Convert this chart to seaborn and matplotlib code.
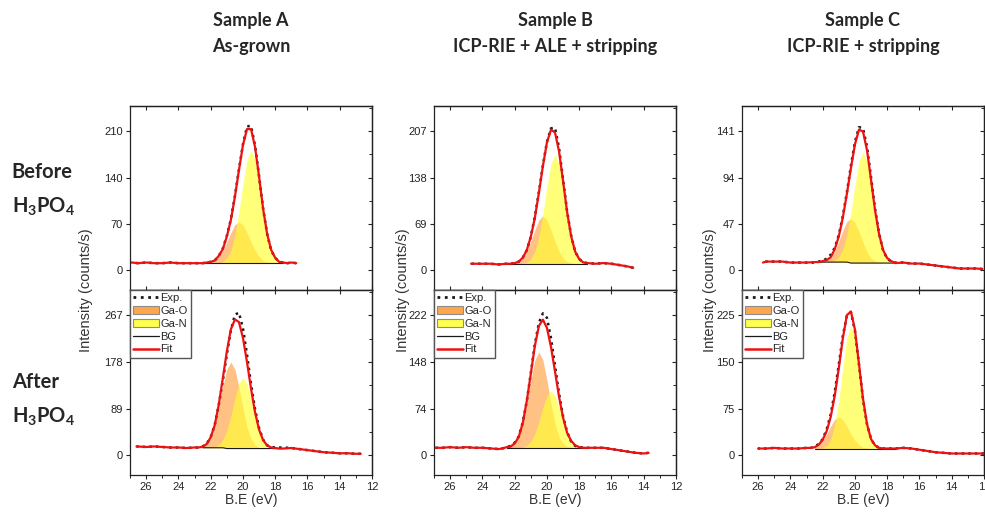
import numpy as np
import pandas as pd
import seaborn as sns
import matplotlib.pyplot as plt
from matplotlib.lines import Line2D
from matplotlib.patches import Patch


# ----------------------------------------------------     Data   ---------------------------------------------
# binding energy grid of the fitted window (eV)
peak_be = [22.5, 22.25, 22.0, 21.75, 21.5, 21.25, 21.0, 20.75, 20.5, 20.25, 20.0,
           19.75, 19.5, 19.25, 19.0, 18.75, 18.5, 18.25, 18.0, 17.75, 17.5]

# Sample A, before H3PO4
a_top_exp_x = [26.9, 26.5, 26.0, 25.5, 25.0, 24.5, 24.0, 23.5, 23.0, 22.5, 22.25, 22.0, 21.75, 21.5, 21.25, 21.0,
               20.75, 20.5, 20.25, 20.0, 19.75, 19.5, 19.25, 19.0, 18.75, 18.5, 18.25, 18.0, 17.75, 17.5, 17.25, 17.0, 16.7]
a_top_exp_y = [12, 11, 12, 11, 11, 12, 11, 11, 11, 11, 12, 13, 15, 22, 33, 52,
               77, 112, 152, 190, 217, 218, 188, 142, 93, 55, 30, 19, 13, 12, 11, 12, 11]
a_top_bg = [11, 11, 11, 11, 11, 11, 11, 11, 11, 11, 11, 11, 11, 11, 11, 11, 11, 11, 11, 11, 11]
a_top_gao = [0, 1, 2, 4, 10, 19, 32, 46, 58, 62, 58, 46, 32, 19, 10, 4, 2, 1, 0, 0, 0]
a_top_gan = [0, 0, 0, 0, 1, 2, 8, 19, 42, 78, 120, 156, 170, 156, 120, 78, 42, 19, 8, 2, 1]

# Sample A, after H3PO4
a_bot_exp_x = [26.6, 26.0, 25.5, 25.0, 24.5, 24.0, 23.5, 23.0, 22.75, 22.5, 22.25, 22.0, 21.75, 21.5, 21.25, 21.0,
               20.75, 20.5, 20.25, 20.0, 19.75, 19.5, 19.25, 19.0, 18.75, 18.5, 18.25, 18.0, 17.5, 17.0, 16.5, 16.0,
               15.5, 15.0, 14.5, 14.0, 13.5, 13.0, 12.7]
a_bot_exp_y = [17, 16, 17, 16, 15, 15, 14, 15, 15, 17, 22, 35, 58, 96, 142, 192,
               238, 268, 272, 242, 192, 136, 88, 52, 30, 19, 16, 15, 15, 14, 12, 10,
               8, 6, 5, 4, 4, 3, 3]
a_bot_bg = [14.5, 14.5, 14.5, 14.5, 14.5, 14.5, 13, 13, 13, 13, 13, 13, 13, 13, 13, 13, 13, 13, 13, 13, 13]
a_bot_gao = [2, 7, 19, 41, 76, 117, 151, 165, 151, 117, 76, 41, 19, 7, 2, 1, 0, 0, 0, 0, 0]
a_bot_gan = [0, 0, 1, 2, 6, 15, 34, 62, 95, 124, 135, 124, 95, 62, 34, 15, 6, 2, 1, 0, 0]

# Sample B, before H3PO4
b_top_exp_x = [24.7, 24.5, 24.0, 23.5, 23.0, 22.5, 22.25, 22.0, 21.75, 21.5, 21.25, 21.0, 20.75, 20.5, 20.25, 20.0,
               19.75, 19.5, 19.25, 19.0, 18.75, 18.5, 18.25, 18.0, 17.75, 17.5, 17.0, 16.5, 16.0, 15.5, 15.0, 14.65]
b_top_exp_y = [10, 10, 10, 10, 9, 10, 10, 11, 13, 19, 30, 50, 80, 116, 156, 191,
               211, 212, 182, 135, 88, 52, 28, 17, 12, 11, 10, 11, 10, 8, 6, 4]
b_top_bg = [10, 10, 10, 10, 10, 10, 10, 10, 10, 10, 10, 10, 10, 10, 10, 10, 10, 10, 10, 10, 10]
b_top_gao = [0, 0, 1, 3, 8, 18, 33, 50, 65, 71, 65, 50, 33, 18, 8, 3, 1, 0, 0, 0, 0]
b_top_gan = [0, 0, 0, 0, 1, 2, 7, 18, 40, 74, 115, 149, 162, 149, 115, 74, 40, 18, 7, 2, 1]

# Sample B, after H3PO4
b_bot_exp_x = [26.9, 26.5, 26.0, 25.5, 25.0, 24.5, 24.0, 23.5, 23.0, 22.75, 22.5, 22.25, 22.0, 21.75, 21.5, 21.25,
               21.0, 20.75, 20.5, 20.25, 20.0, 19.75, 19.5, 19.25, 19.0, 18.75, 18.5, 18.25, 18.0, 17.5, 17.0, 16.5,
               16.0, 15.5, 15.0, 14.5, 14.0, 13.7]
b_bot_exp_y = [12, 12, 13, 12, 13, 12, 12, 11, 10, 11, 13, 15, 20, 30, 52, 86,
               130, 176, 210, 225, 218, 186, 142, 98, 62, 37, 22, 15, 13, 12, 12, 12,
               10, 8, 6, 4, 3, 4]
b_bot_bg = [12, 12, 12, 12, 12, 12, 12, 12, 12, 12, 12, 12, 12, 12, 12, 12, 12, 12, 12, 12, 12]
b_bot_gao = [1, 2, 7, 17, 38, 70, 107, 139, 152, 139, 107, 70, 38, 17, 7, 2, 1, 0, 0, 0, 0]
b_bot_gan = [0, 0, 0, 0, 1, 4, 10, 22, 41, 64, 83, 90, 83, 64, 41, 22, 10, 4, 1, 0, 0]

# Sample C, before H3PO4
c_top_exp_x = [25.7, 25.5, 25.0, 24.5, 24.0, 23.5, 23.0, 22.5, 22.25, 22.0, 21.75, 21.5, 21.25, 21.0, 20.75, 20.5,
               20.25, 20.0, 19.75, 19.5, 19.25, 19.0, 18.75, 18.5, 18.25, 18.0, 17.75, 17.5, 17.0, 16.5, 16.0, 15.5,
               15.0, 14.5, 14.0, 13.5, 13.0, 12.5, 12.1]
c_top_exp_y = [8, 9, 9, 9, 8, 8, 8, 8, 9, 10, 12, 16, 23, 36, 55, 79,
               106, 130, 145, 144, 125, 94, 62, 37, 20, 12, 9, 8, 8, 7, 7, 6,
               5, 4, 3, 2, 2, 2, 1.5]
c_top_bg = [8.5, 8.5, 8.5, 8.5, 8.5, 8.5, 8.5, 8.5, 8.5, 7.5, 7.5, 7.5, 7.5, 7.5, 7.5, 7.5, 7.5, 7.5, 7.5, 7.5, 7.5]
c_top_gao = [0, 0, 1, 2, 5, 11, 21, 32, 41, 45, 41, 32, 21, 11, 5, 2, 1, 0, 0, 0, 0]
c_top_gan = [0, 0, 0, 0, 0, 2, 5, 13, 28, 51, 79, 103, 112, 103, 79, 51, 28, 13, 5, 2, 0]

# Sample C, after H3PO4
c_bot_exp_x = [26.0, 25.5, 25.0, 24.5, 24.0, 23.5, 23.0, 22.75, 22.5, 22.25, 22.0, 21.75, 21.5, 21.25, 21.0, 20.75,
               20.5, 20.25, 20.0, 19.75, 19.5, 19.25, 19.0, 18.75, 18.5, 18.25, 18.0, 17.5, 17.0, 16.5, 16.0, 15.5,
               15.0, 14.5, 14.0, 13.5, 13.0, 12.5, 12.0]
c_bot_exp_y = [11, 11, 12, 11, 11, 11, 12, 12, 14, 18, 26, 42, 66, 102, 146, 192,
               224, 230, 200, 146, 90, 50, 26, 16, 12, 11, 11, 11, 12, 11, 9, 7,
               5, 4, 3, 3, 3, 3, 3]
c_bot_bg = [11, 11, 11, 11, 11, 11, 11, 11, 11, 11, 11, 11, 11, 11, 11, 11, 11, 11, 11, 11, 11]
c_bot_gao = [2, 6, 13, 23, 36, 47, 51, 47, 36, 23, 13, 6, 2, 1, 0, 0, 0, 0, 0, 0, 0]
c_bot_gan = [0, 0, 1, 5, 15, 38, 78, 130, 178, 197, 178, 130, 78, 38, 15, 5, 1, 0, 0, 0, 0]

# top tick value of every panel (ticks at 0, 1/3, 2/3, 1 of it)
y_max_top = [210, 207, 141]
y_max_bot = [267, 222, 225]

sample_titles = ['Sample A', 'Sample B', 'Sample C']
sample_subtitles = ['As-grown', 'ICP-RIE + ALE + stripping', 'ICP-RIE + stripping']
legend_labels = ['Exp.', 'Ga-O', 'Ga-N', 'BG', 'Fit']


# ----------------------------------------------------     Style   ---------------------------------------------------
sns.set_theme(style='ticks', rc={'axes.linewidth': 0.9, 'xtick.major.width': 0.8, 'ytick.major.width': 0.8,
                                 'xtick.minor.width': 0.7, 'ytick.minor.width': 0.7,
                                 'axes.edgecolor': '#222222'})
plt.rcParams['font.family'] = ['Liberation Sans', 'DejaVu Sans']
plt.rcParams['mathtext.default'] = 'regular'

GAO_COLOR = '#ff9933'
GAN_COLOR = '#ffff33'
FIT_COLOR = '#ee1111'
HEAD_FONT = ['Lato', 'DejaVu Sans']


# ----------------------------------------------------     Plotting Functions   ---------------------------------------------------
def plot_panel(ax, exp_x, exp_y, bg, ga_o, ga_n, y_max, bottom_row):
    be = np.array(peak_be)
    bg = np.array(bg, dtype=float)
    ga_o = np.array(ga_o, dtype=float)
    ga_n = np.array(ga_n, dtype=float)

    ax.fill_between(be, bg, bg + ga_o, color=GAO_COLOR, alpha=0.6, lw=0)
    ax.fill_between(be, bg, bg + ga_n, color=GAN_COLOR, alpha=0.65, lw=0)
    sns.lineplot(x=be, y=bg, color='k', lw=0.8, ax=ax)

    exp = pd.DataFrame({'be': exp_x, 'counts': exp_y})
    sns.lineplot(data=exp, x='be', y='counts', color='k', linestyle=':', lw=1.8, ax=ax)

    # fit = background + components inside the window, the data outside it
    outside = exp[(exp['be'] > be.max()) | (exp['be'] < be.min())]
    fit = pd.concat([outside, pd.DataFrame({'be': be, 'counts': bg + ga_o + ga_n})]).sort_values('be')
    sns.lineplot(data=fit, x='be', y='counts', color=FIT_COLOR, lw=1.6, ax=ax)

    ax.set(xlabel='', ylabel='')
    ax.set_xlim(27, 12)
    ax.set_ylim(-0.14 * y_max, 1.18 * y_max)

    major_y = [0, y_max / 3, 2 * y_max / 3, y_max]
    minor_y = [y_max / 6, y_max / 2, 5 * y_max / 6, 7 * y_max / 6]
    ax.set_yticks(major_y)
    ax.set_yticklabels([str(int(round(v))) for v in major_y])
    ax.tick_params(axis='y', which='major', direction='out', length=3, labelsize=8, pad=2,
                   left=True, right=False, colors='#222222')

    right = ax.secondary_yaxis('right')
    right.set_ticks(major_y)
    right.set_ticks(minor_y, minor=True)
    right.tick_params(which='major', direction='in', length=3, labelright=False)
    right.tick_params(which='minor', direction='in', length=2)

    top = ax.secondary_xaxis('top')
    top.set_ticks(list(range(26, 11, -2)))
    top.tick_params(direction='in', length=3, labeltop=False)

    ax.set_xticks(list(range(26, 11, -2)))
    ax.set_xticks(list(range(27, 11, -1)), minor=True)
    if bottom_row:
        ax.tick_params(axis='x', which='major', direction='out', length=3, labelsize=8, pad=2)
        ax.tick_params(axis='x', which='minor', direction='out', length=2)
        handles = [Line2D([], [], color='k', linestyle=':', lw=2),
                   Patch(facecolor='#ffa64d', edgecolor='#8c8c8c', lw=0.8),
                   Patch(facecolor='#ffff4d', edgecolor='#8c8c8c', lw=0.8),
                   Line2D([], [], color='k', lw=0.9),
                   Line2D([], [], color=FIT_COLOR, lw=1.8)]
        ax.legend(handles, legend_labels, loc='upper left', borderaxespad=0, fontsize=8,
                  handlelength=2.3, handletextpad=0.15, labelspacing=0.25, borderpad=0.3,
                  fancybox=False, framealpha=1, edgecolor='#555555')
    else:
        ax.tick_params(axis='x', which='major', direction='in', length=3, labelbottom=False)
        ax.tick_params(axis='x', which='minor', length=0)


fig = plt.figure(figsize=(9.85, 5.14), dpi=100)

col_left = [0.132, 0.4406, 0.7533]
col_width = 0.2457
col_center = [0.2548, 0.5635, 0.8761]
ylabel_x = [0.0873, 0.409, 0.7208]

top_data = [(a_top_exp_x, a_top_exp_y, a_top_bg, a_top_gao, a_top_gan),
            (b_top_exp_x, b_top_exp_y, b_top_bg, b_top_gao, b_top_gan),
            (c_top_exp_x, c_top_exp_y, c_top_bg, c_top_gao, c_top_gan)]
bot_data = [(a_bot_exp_x, a_bot_exp_y, a_bot_bg, a_bot_gao, a_bot_gan),
            (b_bot_exp_x, b_bot_exp_y, b_bot_bg, b_bot_gao, b_bot_gan),
            (c_bot_exp_x, c_bot_exp_y, c_bot_bg, c_bot_gao, c_bot_gan)]

for i in range(3):
    ax_top = fig.add_axes([col_left[i], 0.4358, col_width, 0.358])
    plot_panel(ax_top, *top_data[i], y_max_top[i], bottom_row=False)
    ax_bot = fig.add_axes([col_left[i], 0.0759, col_width, 0.3599])
    plot_panel(ax_bot, *bot_data[i], y_max_bot[i], bottom_row=True)

    fig.text(col_center[i], 0.961, sample_titles[i], ha='center', va='center',
             fontsize=13, fontweight='bold', family=HEAD_FONT)
    fig.text(col_center[i], 0.9086, sample_subtitles[i], ha='center', va='center',
             fontsize=13, fontweight='bold', family=HEAD_FONT)
    fig.text(ylabel_x[i], 0.4358, 'Intensity (counts/s)', rotation=90, ha='center', va='center',
             fontsize=10.5, color='#333333')
    fig.text(col_center[i], 0.028, 'B.E (eV)', ha='center', va='center', fontsize=10, color='#333333')

fig.text(0.012, 0.6654, 'Before', ha='left', va='center', fontsize=14.5, fontweight='bold', family=HEAD_FONT)
fig.text(0.012, 0.5973, r'H$_3$PO$_4$', ha='left', va='center', fontsize=14.5, fontweight='bold', family=HEAD_FONT)
fig.text(0.012, 0.2568, 'After', ha='left', va='center', fontsize=14.5, fontweight='bold', family=HEAD_FONT)
fig.text(0.012, 0.1887, r'H$_3$PO$_4$', ha='left', va='center', fontsize=14.5, fontweight='bold', family=HEAD_FONT)

plt.savefig('out.png', dpi=100)
